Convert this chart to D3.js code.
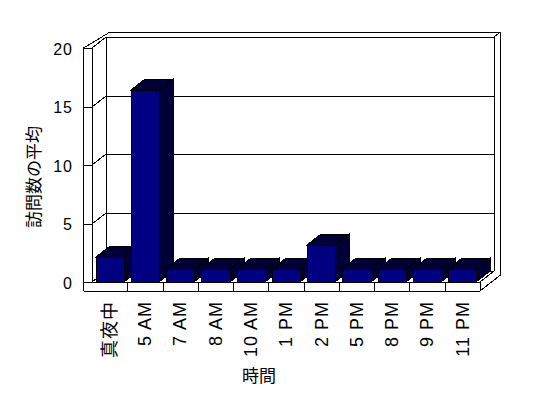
<!DOCTYPE html>
<html><head><meta charset="utf-8">
<script src="https://cdn.jsdelivr.net/npm/d3@7"></script>
<style>
html,body{margin:0;padding:0;background:#fff;}
svg{display:block;}
text{font-family:"Liberation Sans","Noto Sans CJK JP",sans-serif;fill:#000;}
</style></head>
<body>
<script>
// ---- data ----
const categories = ["真夜中","5 AM","7 AM","8 AM","10 AM","1 PM","2 PM","5 PM","8 PM","9 PM","11 PM"];
const values = [2.15, 16.4, 1.1, 1.1, 1.1, 1.1, 3.2, 1.1, 1.1, 1.1, 1.1];
const yTicks = [0, 5, 10, 15, 20];
const xTitle = "時間";
const yTitle = "訪問数の平均";

// ---- layout ----
const W = 548, H = 398;
const X0 = 92, X1 = 480;      // front plane plot x-range
const Y0 = 282, Y1 = 48;      // front plane y for 0 and 20
const DX = 14, DY = -11;      // depth offset
const TX = 6.5, TY = -5;      // back wall thickness offset
const WALL = 8.5;             // left wall thickness
const FLOOR = 9;              // floor thickness
const FRONT = "#000080", SHADE = "#000036";

const svg = d3.select("body").append("svg").attr("width", W).attr("height", H);

const x = d3.scaleBand().domain(categories).range([X0, X1]).paddingInner(0.2).paddingOuter(0.1);
const y = d3.scaleLinear().domain([0, 20]).range([Y0, Y1]);

const g = svg.append("g").attr("shape-rendering","crispEdges");
const line = (pts) => "M" + pts.map(p => p.join(",")).join("L");

const L = X0 - WALL;
const yTop = y(20), yBot = y(0);

g.append("path").attr("d", line([[L, yBot+FLOOR],[X1, yBot+FLOOR],[X1+DX+TX, yBot+FLOOR+DY+TY],
  [X1+DX+TX, yTop+DY+TY],[L+DX+TX, yTop+DY+TY],[L, yTop]]) + "Z")
  .attr("fill","#fff").attr("stroke","none");

const edges = [
  [[L, yTop],[L, yBot+FLOOR]],
  [[X0, yTop],[X0, yBot]],
  [[L, yTop],[X0, yTop]],
  [[L, yBot+FLOOR],[X1, yBot+FLOOR]],
  [[X0, yBot],[X1, yBot]],
  [[X1, yBot],[X1, yBot+FLOOR]],
  [[L, yTop],[L+DX+TX+6, yTop+DY+TY]],
  [[X0, yTop],[X0+DX, yTop+DY]],
  [[L+DX+TX+6, yTop+DY+TY],[X1+DX+TX, yTop+DY+TY]],
  [[X0+DX, yTop+DY],[X1+DX, yTop+DY]],
  [[X1+DX, yTop+DY],[X1+DX+TX, yTop+DY+TY]],
  [[X1+DX, yTop+DY],[X1+DX, yBot+DY]],
  [[X1+DX+TX, yTop+DY+TY],[X1+DX+TX, yBot+FLOOR+DY+TY]],
  [[X1, yBot+FLOOR],[X1+DX+TX, yBot+FLOOR+DY+TY]],
  [[X1, yBot],[X1+DX, yBot+DY]],
  [[X0+DX, yTop+DY],[X0+DX, yBot+DY]]
];
g.selectAll("path.edge").data(edges).enter().append("path").attr("class","edge")
  .attr("d", d => line(d)).attr("fill","none").attr("stroke","#000").attr("stroke-width",1);

const grid = g.append("g");
yTicks.forEach(v => {
  const yy = Math.round(y(v));
  grid.append("path").attr("d", line([[L, yy],[X0, yy],[X0+DX, yy+DY],[X1+DX, yy+DY]]))
    .attr("fill","none").attr("stroke","#000");
});

const step = x.step();
d3.range(1, categories.length).forEach(i => {
  const xx = Math.round(X0 + i*step);
  g.append("path").attr("d", line([[xx, yBot],[xx, yBot+FLOOR]])).attr("stroke","#000");
});

const bars = g.selectAll("g.bar").data(categories.map((c,i)=>({c, v: values[i]}))).enter()
  .append("g").attr("class","bar");
bars.each(function(d){
  const s = d3.select(this);
  const xl = Math.round(x(d.c)), xr = Math.round(x(d.c) + x.bandwidth());
  const yt = Math.round(y(d.v)), yb = Math.round(y(0));
  s.append("path").attr("d", line([[xr,yb],[xr+DX,yb+DY],[xr+DX,yt+DY],[xr,yt]])+"Z")
    .attr("fill",SHADE).attr("stroke","#000");
  s.append("path").attr("d", line([[xl,yt],[xl+DX,yt+DY],[xr+DX,yt+DY],[xr,yt]])+"Z")
    .attr("fill",SHADE).attr("stroke","#000");
  s.append("rect").attr("x",xl).attr("y",yt).attr("width",xr-xl).attr("height",yb-yt)
    .attr("fill",FRONT).attr("stroke","#000");
});

svg.selectAll("text.ytick").data(yTicks).enter().append("text").attr("class","ytick")
  .attr("x", 73).attr("y", d => y(d) + 1).attr("dy","0.35em")
  .attr("text-anchor","end").style("font-size","16px").style("letter-spacing","1px")
  .style("fill","#000").text(d => d);

svg.selectAll("text.xtick").data(categories).enter().append("text").attr("class","xtick")
  .attr("transform", d => `translate(${x(d)+x.bandwidth()/2},${yBot+FLOOR+10}) rotate(-90)`)
  .attr("dy","0.35em").attr("text-anchor","end").style("font-size","18px").style("letter-spacing","1px")
  .style("fill","#000").text(d => d);

svg.append("text").attr("x", 259).attr("y", 376).attr("dy","0.35em").attr("text-anchor","middle")
  .style("font-size","17px").style("fill","#000").text(xTitle);
svg.append("text").attr("transform","translate(34,177) rotate(-90)").attr("dy","0.35em")
  .attr("text-anchor","middle").style("font-size","17px").style("fill","#000").text(yTitle);
</script>
</body></html>
